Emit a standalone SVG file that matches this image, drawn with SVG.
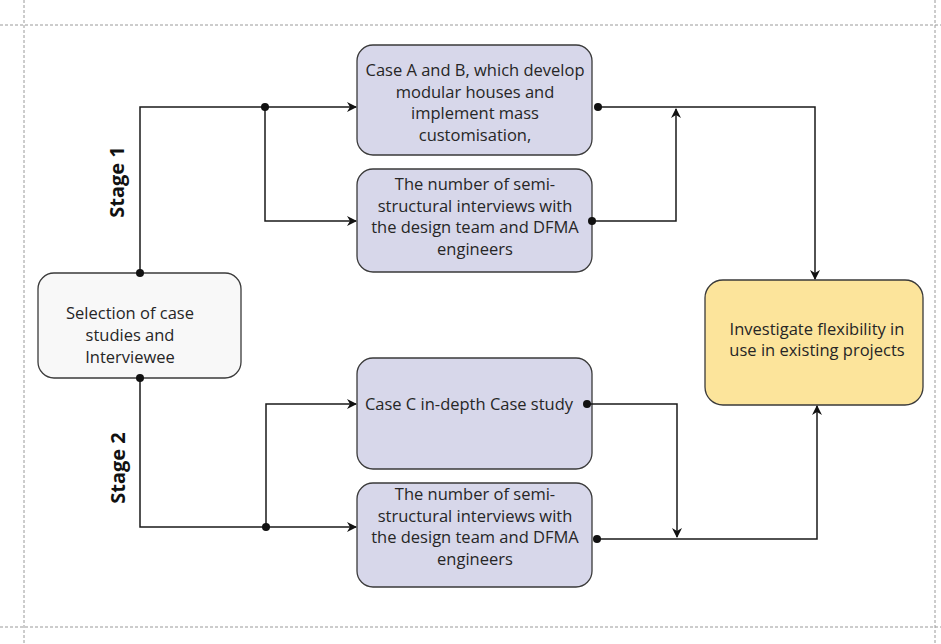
<svg xmlns="http://www.w3.org/2000/svg" width="941" height="644" viewBox="0 0 941 644">
<defs>
<marker id="arr" viewBox="0 0 10 10" refX="9" refY="5" markerWidth="10" markerHeight="10" markerUnits="userSpaceOnUse" orient="auto">
<path d="M0,0 L10,5 L0,10 L3,5 z" fill="#111"/>
</marker>
</defs>
<style>
.border{stroke:#9a9a9a;stroke-width:1;stroke-dasharray:3 2;fill:none}
.box{stroke:#3a3a3a;stroke-width:1.3}
.lav{fill:#d7d7ea}
.wht{fill:#f8f8f8}
.yel{fill:#fce49b}
.t{font-family:"Open Sans","Liberation Sans",sans-serif;font-size:16.5px;fill:#262626;text-anchor:middle}
.st{font-family:"Open Sans","Liberation Sans",sans-serif;font-size:20px;font-weight:bold;fill:#111;text-anchor:middle}
.ln{stroke:#1a1a1a;stroke-width:1.5;fill:none}
.dot{fill:#111}
</style>
<rect width="941" height="644" fill="#fff"/>
<g id="frame">
<line class="border" x1="0" y1="25" x2="941" y2="25"/>
<line class="border" x1="0" y1="627" x2="941" y2="627"/>
<line class="border" x1="24" y1="0" x2="24" y2="644"/>
<line class="border" x1="935" y1="0" x2="935" y2="644"/>
</g>
<g id="label-stage1">
<text class="st" transform="translate(124,182) rotate(-90)">Stage 1</text>
</g>
<g id="label-stage2">
<text class="st" transform="translate(125,468) rotate(-90)">Stage 2</text>
</g>
<g id="node-selection">
<rect class="box wht" x="38" y="273" width="203" height="105" rx="16"/>
<text class="t" x="130" y="319">Selection of case</text>
<text class="t" x="130" y="341">studies and</text>
<text class="t" x="130" y="363">Interviewee</text>
</g>
<g id="node-caseAB">
<rect class="box lav" x="357" y="45" width="235" height="110" rx="16"/>
<text class="t" x="475" y="76">Case A and B, which develop</text>
<text class="t" x="475" y="98">modular houses and</text>
<text class="t" x="475" y="119">implement mass</text>
<text class="t" x="475" y="141">customisation,</text>
</g>
<g id="node-interviews1">
<rect class="box lav" x="357" y="169" width="235" height="103" rx="16"/>
<text class="t" x="475" y="190">The number of semi-</text>
<text class="t" x="475" y="212">structural interviews with</text>
<text class="t" x="475" y="233">the design team and DFMA</text>
<text class="t" x="475" y="255">engineers</text>
</g>
<g id="node-caseC">
<rect class="box lav" x="357" y="358" width="235" height="111" rx="16"/>
<text class="t" x="469" y="410">Case C in-depth Case study</text>
</g>
<g id="node-interviews2">
<rect class="box lav" x="357" y="483" width="235" height="104" rx="16"/>
<text class="t" x="475" y="500">The number of semi-</text>
<text class="t" x="475" y="522">structural interviews with</text>
<text class="t" x="475" y="543">the design team and DFMA</text>
<text class="t" x="475" y="565">engineers</text>
</g>
<g id="node-investigate">
<rect class="box yel" x="705" y="280" width="218" height="125" rx="18"/>
<text class="t" x="817" y="335">Investigate flexibility in</text>
<text class="t" x="817" y="356">use in existing projects</text>
</g>
<g id="connectors">
<path class="ln" d="M140,273 V107 H356" marker-end="url(#arr)"/>
<path class="ln" d="M265,107 V221 H356" marker-end="url(#arr)"/>
<path class="ln" d="M598,107 H815 V279" marker-end="url(#arr)"/>
<path class="ln" d="M592,221 H676 V109" marker-end="url(#arr)"/>
<path class="ln" d="M140,378 V527 H356" marker-end="url(#arr)"/>
<path class="ln" d="M266,527 V404 H356" marker-end="url(#arr)"/>
<path class="ln" d="M587,404 H677 V537" marker-end="url(#arr)"/>
<path class="ln" d="M597,539 H817 V406" marker-end="url(#arr)"/>
<circle class="dot" cx="140" cy="273" r="4"/>
<circle class="dot" cx="265" cy="107" r="4"/>
<circle class="dot" cx="598" cy="107" r="4"/>
<circle class="dot" cx="592" cy="221" r="4"/>
<circle class="dot" cx="140" cy="378" r="4"/>
<circle class="dot" cx="266" cy="527" r="4"/>
<circle class="dot" cx="587" cy="404" r="4"/>
<circle class="dot" cx="597" cy="539" r="4"/>
</g>
</svg>
